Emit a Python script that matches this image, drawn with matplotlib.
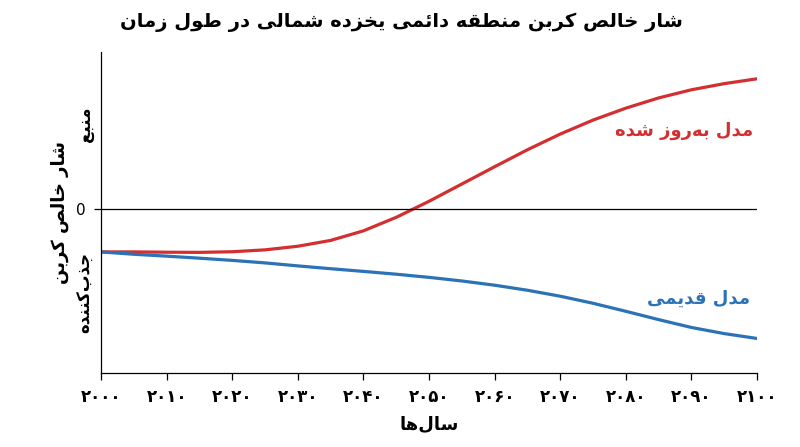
import numpy as np
import matplotlib
matplotlib.use('Agg')
import matplotlib.pyplot as plt

# ---------- DATA ----------
years = list(range(2000, 2101, 5))
flux_red = [-0.272, -0.272, -0.274, -0.275, -0.271, -0.259, -0.236, -0.199, -0.138,
            -0.052, 0.050, 0.160, 0.270, 0.378, 0.478, 0.567, 0.643, 0.708, 0.760,
            0.799, 0.830]
flux_blue = [-0.272, -0.287, -0.299, -0.312, -0.326, -0.342, -0.361, -0.379, -0.396,
             -0.414, -0.434, -0.457, -0.484, -0.516, -0.554, -0.599, -0.650, -0.703,
             -0.753, -0.792, -0.823]
xticks = list(range(2000, 2101, 10))
xtick_labels = ['۲۰۰۰', '۲۰۱۰', '۲۰۲۰', '۲۰۳۰', '۲۰۴۰', '۲۰۵۰',
                '۲۰۶۰', '۲۰۷۰', '۲۰۸۰', '۲۰۹۰', '۲۱۰۰']

title = 'شار خالص کربن منطقه دائمی یخزده شمالی در طول زمان'
ylabel = 'شار خالص کربن'
source_lbl = 'منبع'
sink_lbl = 'جذب\u200cکننده'
xlabel = 'سال\u200cها'
red_lbl = 'مدل به\u200cروز شده'
blue_lbl = 'مدل قدیمی'

RED = '#d42f30'
BLUE = '#2b72b6'

# ---------- simple Persian shaping (matplotlib has no bidi / joining) ----------
# char: (isolated, final, initial, medial); None = no such form
FORMS = {
    'ا': (0xFE8D, 0xFE8E, None, None), 'آ': (0xFE81, 0xFE82, None, None),
    'ب': (0xFE8F, 0xFE90, 0xFE91, 0xFE92), 'پ': (0xFB56, 0xFB57, 0xFB58, 0xFB59),
    'ت': (0xFE95, 0xFE96, 0xFE97, 0xFE98), 'ث': (0xFE99, 0xFE9A, 0xFE9B, 0xFE9C),
    'ج': (0xFE9D, 0xFE9E, 0xFE9F, 0xFEA0), 'چ': (0xFB7A, 0xFB7B, 0xFB7C, 0xFB7D),
    'ح': (0xFEA1, 0xFEA2, 0xFEA3, 0xFEA4), 'خ': (0xFEA5, 0xFEA6, 0xFEA7, 0xFEA8),
    'د': (0xFEA9, 0xFEAA, None, None), 'ذ': (0xFEAB, 0xFEAC, None, None),
    'ر': (0xFEAD, 0xFEAE, None, None), 'ز': (0xFEAF, 0xFEB0, None, None),
    'ژ': (0xFB8A, 0xFB8B, None, None),
    'س': (0xFEB1, 0xFEB2, 0xFEB3, 0xFEB4), 'ش': (0xFEB5, 0xFEB6, 0xFEB7, 0xFEB8),
    'ص': (0xFEB9, 0xFEBA, 0xFEBB, 0xFEBC), 'ض': (0xFEBD, 0xFEBE, 0xFEBF, 0xFEC0),
    'ط': (0xFEC1, 0xFEC2, 0xFEC3, 0xFEC4), 'ظ': (0xFEC5, 0xFEC6, 0xFEC7, 0xFEC8),
    'ع': (0xFEC9, 0xFECA, 0xFECB, 0xFECC), 'غ': (0xFECD, 0xFECE, 0xFECF, 0xFED0),
    'ف': (0xFED1, 0xFED2, 0xFED3, 0xFED4), 'ق': (0xFED5, 0xFED6, 0xFED7, 0xFED8),
    'ک': (0xFB8E, 0xFB8F, 0xFB90, 0xFB91), 'گ': (0xFB92, 0xFB93, 0xFB94, 0xFB95),
    'ل': (0xFEDD, 0xFEDE, 0xFEDF, 0xFEE0), 'م': (0xFEE1, 0xFEE2, 0xFEE3, 0xFEE4),
    'ن': (0xFEE5, 0xFEE6, 0xFEE7, 0xFEE8), 'و': (0xFEED, 0xFEEE, None, None),
    'ه': (0xFEE9, 0xFEEA, 0xFEEB, 0xFEEC), 'ی': (0xFBFC, 0xFBFD, 0xFBFE, 0xFBFF),
    'ئ': (0xFE89, 0xFE8A, 0xFE8B, 0xFE8C),
}


def fa(text):
    """Pick contextual glyph forms and reverse for right-to-left display."""
    out = []
    n = len(text)
    for i, ch in enumerate(text):
        if ch not in FORMS:
            if ch != '\u200c':
                out.append(ch)
            continue
        prev = text[i - 1] if i > 0 else ''
        nxt = text[i + 1] if i < n - 1 else ''
        join_prev = prev in FORMS and FORMS[prev][2] is not None
        join_next = FORMS[ch][2] is not None and nxt in FORMS
        iso, fin, ini, med = FORMS[ch]
        if join_prev and join_next:
            code = med
        elif join_prev:
            code = fin
        elif join_next:
            code = ini
        else:
            code = iso
        out.append(chr(code))
    return ''.join(out[::-1])


plt.rcParams['font.family'] = ['DejaVu Sans']

fig = plt.figure(figsize=(8, 4.47), dpi=100)
ax = fig.add_axes([0.12625, 0.1655, 0.82, 0.718])

ax.plot(years, flux_red, color=RED, linewidth=2.3, solid_joinstyle='round')
ax.plot(years, flux_blue, color=BLUE, linewidth=2.3, solid_joinstyle='round')
ax.axhline(0, color='black', linewidth=0.9)

ax.set_xlim(2000, 2100)
ax.set_ylim(-1.043, 1.0)

ax.spines['top'].set_visible(False)
ax.spines['right'].set_visible(False)
ax.spines['left'].set_linewidth(0.9)
ax.spines['bottom'].set_linewidth(0.9)

ax.set_xticks(xticks)
ax.set_xticklabels(xtick_labels, fontsize=12, fontweight='bold')
ax.set_yticks([0])
ax.set_yticklabels(['0'], fontsize=11)
ax.tick_params(axis='both', length=5, width=0.9, pad=6)

ax.set_xlabel(fa(xlabel), fontsize=13, fontweight='bold', labelpad=6)

# y-axis texts
ax.text(-0.062, 0.5, fa(ylabel), transform=ax.transAxes, rotation=90,
        ha='center', va='center', fontsize=13, fontweight='bold')
ax.text(-0.025, 0.54, fa(source_lbl), transform=ax.get_yaxis_transform(), rotation=90,
        ha='center', va='center', fontsize=12, fontweight='bold')
ax.text(-0.025, -0.53, fa(sink_lbl), transform=ax.get_yaxis_transform(), rotation=90,
        ha='center', va='center', fontsize=12, fontweight='bold')

# series labels
ax.text(2099.4, 0.5, fa(red_lbl), color=RED, ha='right', va='center',
        fontsize=13, fontweight='bold')
ax.text(2099, -0.57, fa(blue_lbl), color=BLUE, ha='right', va='center',
        fontsize=13, fontweight='bold')

fig.text(0.502, 0.95, fa(title), ha='center', va='center',
         fontsize=14, fontweight='bold')

fig.savefig('out.png', dpi=100, facecolor='white')
